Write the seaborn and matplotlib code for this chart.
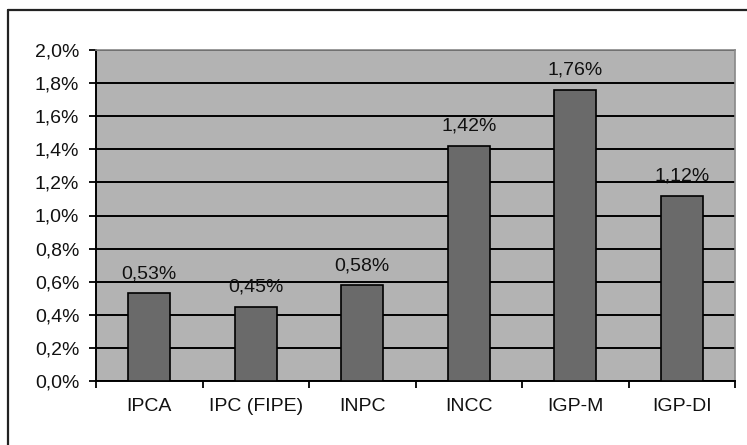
import matplotlib
matplotlib.use("Agg")
import matplotlib.pyplot as plt
from matplotlib.lines import Line2D
import seaborn as sns
import pandas as pd

# Índices de inflação (variação mensal, %)
indices = ["IPCA", "IPC (FIPE)", "INPC", "INCC", "IGP-M", "IGP-DI"]
variacao = [0.53, 0.45, 0.58, 1.42, 1.76, 1.12]
rotulos = ["0,53%", "0,45%", "0,58%", "1,42%", "1,76%", "1,12%"]
y_ticks = [0.0, 0.2, 0.4, 0.6, 0.8, 1.0, 1.2, 1.4, 1.6, 1.8, 2.0]
y_tick_labels = ["0,0%", "0,2%", "0,4%", "0,6%", "0,8%", "1,0%",
                 "1,2%", "1,4%", "1,6%", "1,8%", "2,0%"]

sns.set_theme(style="white")
plt.rcParams["font.family"] = ["Liberation Sans", "DejaVu Sans"]

df = pd.DataFrame({"indice": indices, "variacao": variacao})

W, H = 747, 445
FS = 14
fig = plt.figure(figsize=(W / 100, H / 100), dpi=100)
fig.patch.set_facecolor("white")
ax = fig.add_axes([96 / W, 1 - 381 / H, (735 - 96) / W, (381 - 50) / H])
ax.set_facecolor("#b3b3b3")

sns.barplot(data=df, x="indice", y="variacao", ax=ax, color="#6a6a6a",
            width=0.39, edgecolor="black", linewidth=1.2, saturation=1,
            zorder=3)

ax.set_ylim(0, 2.0)
ax.set_xlim(-0.5, len(indices) - 0.5)
ax.set_yticks(y_ticks)
ax.set_yticklabels(y_tick_labels)
ax.yaxis.grid(True, color="black", linewidth=1.4, zorder=1)
ax.set_axisbelow(True)
ax.set_xlabel("")
ax.set_ylabel("")

# Category labels centred; tick marks on the category boundaries
ax.set_xticks(range(len(indices)))
ax.set_xticklabels(indices)
ax.set_xticks([i - 0.5 for i in range(len(indices) + 1)], minor=True)
ax.tick_params(axis="x", which="major", length=0, pad=12, labelsize=FS,
               labelcolor="#111111")
ax.tick_params(axis="x", which="minor", length=5, width=1.3, color="black",
               direction="out", bottom=True)
ax.tick_params(axis="y", length=5, width=1.3, color="black", direction="out",
               left=True, pad=7, labelsize=FS, labelcolor="#111111")

for side in ("left", "bottom"):
    ax.spines[side].set_color("black")
    ax.spines[side].set_linewidth(1.4)
for side in ("top", "right"):
    ax.spines[side].set_color("#888888")
    ax.spines[side].set_linewidth(1.2)

# Value labels above each bar
for i, (v, txt) in enumerate(zip(variacao, rotulos)):
    ax.annotate(txt, xy=(i, v), xytext=(0, 10.8), textcoords="offset points",
                ha="center", va="baseline", fontsize=FS, color="#111111",
                zorder=4)

# Chart frame (top and left edges)
fig.add_artist(Line2D([8 / W, 1.0], [1 - 10 / H, 1 - 10 / H],
                      color="#222222", linewidth=1.6))
fig.add_artist(Line2D([8 / W, 8 / W], [0.0, 1 - 10 / H],
                      color="#222222", linewidth=1.6))

fig.savefig("out.png", dpi=100, facecolor="white")
